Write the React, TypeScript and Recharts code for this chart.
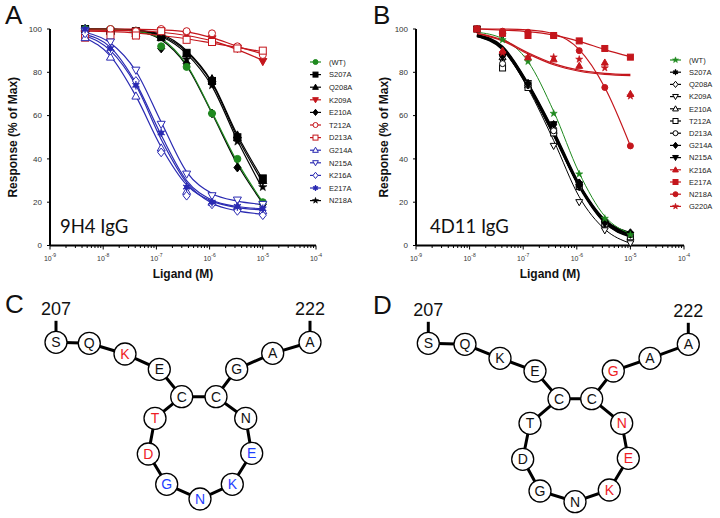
import React from "react";
import { ComposedChart, Line, Scatter, XAxis, YAxis, Legend } from "recharts";

// concentrations (M), 3-fold dilution series
const CONC_A = [4.57e-9, 1.37e-8, 4.12e-8, 1.23e-7, 3.7e-7, 1.11e-6, 3.33e-6, 1e-5];
const CONC_B = [1.37e-8, 4.12e-8, 1.23e-7, 3.7e-7, 1.11e-6, 3.33e-6, 1e-5];
const DECADES = [1e-9, 1e-8, 1e-7, 1e-6, 1e-5, 1e-4];
const MINOR = [2, 3, 4, 5, 6, 7, 8, 9];
const Y_TICKS = [0, 20, 40, 60, 80, 100];

// panel A (9H4 IgG): points and fitted curve read at each concentration
const A_WT = [100, 100, 99, 92, 82.5, 61, 40, 20];
const A_WT_FIT = [100, 99.8, 99, 95.5, 83.5, 61.5, 38.5, 20];
const A_S207A = [100, 99, 99, 97, 89, 76, 50, 31];
const A_S207A_FIT = [100, 99.9, 99.5, 97.5, 90, 75.5, 51, 30.5];
const A_Q208A = [100, 99, 98, 96, 88.5, 77, 51, 30];
const A_Q208A_FIT = [100, 99.9, 99.4, 97, 89.5, 75, 50, 29];
const A_K209A = [98, 98, 99, 99, 97.5, 95.5, 91, 85];
const A_K209A_FIT = [99.5, 99.4, 99.2, 98.5, 97, 94.5, 90.5, 85.5];
const A_E210A = [100, 99, 99, 91, 84, 61, 36, 19];
const A_E210A_FIT = [100, 99.8, 99, 95, 83, 61, 37.5, 19.5];
const A_T212A = [97, 100, 99, 100, 99, 98, 92, 88];
const A_T212A_FIT = [100, 100, 99.9, 99.6, 98.7, 96, 92, 88.5];
const A_D213A = [96, 97, 97, 99, 95, 94, 91, 90];
const A_D213A_FIT = [99, 98.8, 98.2, 97, 95.5, 93.5, 91.5, 89.5];
const A_G214A = [96, 87, 69, 45, 25, 20, 18, 16];
const A_G214A_FIT = [96, 87.5, 69, 45.5, 28, 20.5, 17.5, 16.5];
const A_N215A = [99, 94, 81, 56, 33, 23, 21, 19];
const A_N215A_FIT = [98.5, 93.5, 80.5, 57, 34, 24, 20.5, 19];
const A_K216A = [98, 90, 76, 43, 23, 19, 16, 14];
const A_K216A_FIT = [97, 90, 74, 49, 29, 19.5, 16, 14.5];
const A_E217A = [100, 91, 74, 52, 27, 20, 18, 17];
const A_E217A_FIT = [97.5, 91.5, 75, 51, 30, 21, 18, 17];
const A_N218A = [100, 98, 97, 96, 86, 74, 48, 27];
const A_N218A_FIT = [100, 99.8, 99.2, 96.5, 88.5, 73.5, 48.5, 26];

// panel B (4D11 IgG)
const B_WT = [100, 95, 85, 61, 33, 12.5, 5];
const B_WT_FIT = [98.5, 95.5, 85, 62, 33.5, 13.5, 5.5];
const B_S207A = [100, 88, 75, 55, 28, 11, 5];
const B_S207A_FIT = [97, 91.5, 74.5, 52, 28, 11.5, 5];
const B_Q208A = [100, 86, 74, 54, 29, 11, 5];
const B_Q208A_FIT = [97, 91, 74, 51.5, 27.5, 11, 5];
const B_K209A = [100, 97, 75, 46, 20, 7, 1];
const B_K209A_FIT = [96.5, 90.5, 72.5, 48.5, 22.5, 7.5, 1];
const B_E210A = [100, 87, 74, 53, 27, 10, 4];
const B_E210A_FIT = [97, 91, 73.5, 51, 27, 10.5, 4.5];
const B_T212A = [100, 82, 73, 52, 28, 10, 4];
const B_T212A_FIT = [96.5, 90.5, 73.5, 51, 27.5, 10.5, 4];
const B_D213A = [100, 84, 74, 53, 27, 11, 5];
const B_D213A_FIT = [97, 91, 74, 52, 27.5, 11, 5];
const B_G214A = [100, 88, 75, 56, 29, 11, 6];
const B_G214A_FIT = [97.5, 92, 75, 53, 28.5, 12, 6];
const B_N215A = [100, 87, 74, 56, 27, 10, 5];
const B_N215A_FIT = [97, 91.5, 74.5, 52.5, 28, 11.5, 5.5];
const B_K216A = [100, 90, 87, 86, 83, 84.5, 70];
const B_K216A_FIT = [98, 95, 89, 84, 81, 79.5, 79];
const B_E217A = [100, 98, 97, 97, 94.5, 91, 87];
const B_E217A_FIT = [100, 99.5, 98.8, 97.2, 94.3, 90.5, 87.2];
const B_N218A = [100, 99, 98.5, 97, 90, 73, 46];
const B_N218A_FIT = [100, 100, 99.6, 97.8, 90.5, 73, 46];
const B_G220A = [100, 89, 87, 87, 86, 82, 69];
const B_G220A_FIT = [98, 94.5, 88.5, 83.5, 80.5, 79, 78.5];

// panels C / D: residue diagram
const RESIDUES = ["S", "Q", "K", "E", "C", "C", "G", "A", "A", "T", "D", "G", "N", "K", "E", "N"];
const C_X = [56, 89.3, 125, 159.3, 181.7, 216, 236.7, 272.7, 310, 155, 148.3, 166.7, 200, 232.3, 251.7, 245.7];
const C_Y = [342.3, 343.3, 354, 369.3, 396.7, 396.7, 369.3, 353.3, 342.3, 418.3, 454, 484.3, 499, 484.3, 453.3, 418.3];
const C_HUE = ["k", "k", "r", "k", "k", "k", "k", "k", "k", "r", "r", "b", "b", "b", "b", "k"];
const D_X = [428.3, 465, 500, 535, 559, 591.7, 613.3, 650, 688.3, 530, 522.7, 540, 575, 609.3, 628.3, 621.7];
const D_Y = [343.3, 344.3, 358.3, 371, 398.7, 398.7, 371, 358.3, 344.3, 423.3, 459.3, 491, 501.7, 490, 458.3, 423.3];
const D_HUE = ["k", "k", "k", "k", "k", "k", "r", "k", "k", "k", "k", "k", "k", "r", "r", "r"];
const CHAIN = [0, 1, 2, 3, 4, 5, 6, 7, 8];
const RING = [4, 9, 10, 11, 12, 13, 14, 15, 5];
const END_NODES = [0, 8];
const END_LABELS = ["207", "222"];

const GREEN = "#1f8a1f";
const RED = "#c4161c";
const BLUE = "#2a2ab2";
const BLACK = "#000";
const HUE: Record<string, string> = { k: "#111", r: "#ee1c24", b: "#1f3fff" };
const FONT = "'Liberation Sans', Arial, sans-serif";

type Kind = "circle" | "square" | "triUp" | "triDown" | "diamond" | "star" | "asterisk";
type Series = { name: string; pts: number[]; fit: number[]; color: string; kind: Kind; open?: boolean; lw?: number };

const SERIES_A: Series[] = [
  { name: "(WT)", pts: A_WT, fit: A_WT_FIT, color: GREEN, kind: "circle" },
  { name: "S207A", pts: A_S207A, fit: A_S207A_FIT, color: BLACK, kind: "square" },
  { name: "Q208A", pts: A_Q208A, fit: A_Q208A_FIT, color: BLACK, kind: "triUp" },
  { name: "K209A", pts: A_K209A, fit: A_K209A_FIT, color: RED, kind: "triDown" },
  { name: "E210A", pts: A_E210A, fit: A_E210A_FIT, color: BLACK, kind: "diamond" },
  { name: "T212A", pts: A_T212A, fit: A_T212A_FIT, color: RED, kind: "circle", open: true },
  { name: "D213A", pts: A_D213A, fit: A_D213A_FIT, color: RED, kind: "square", open: true },
  { name: "G214A", pts: A_G214A, fit: A_G214A_FIT, color: BLUE, kind: "triUp", open: true },
  { name: "N215A", pts: A_N215A, fit: A_N215A_FIT, color: BLUE, kind: "triDown", open: true },
  { name: "K216A", pts: A_K216A, fit: A_K216A_FIT, color: BLUE, kind: "diamond", open: true },
  { name: "E217A", pts: A_E217A, fit: A_E217A_FIT, color: BLUE, kind: "asterisk" },
  { name: "N218A", pts: A_N218A, fit: A_N218A_FIT, color: BLACK, kind: "star" },
];

const SERIES_B: Series[] = [
  { name: "(WT)", pts: B_WT, fit: B_WT_FIT, color: GREEN, kind: "star", lw: 1 },
  { name: "S207A", pts: B_S207A, fit: B_S207A_FIT, color: BLACK, kind: "asterisk", lw: 1.6 },
  { name: "Q208A", pts: B_Q208A, fit: B_Q208A_FIT, color: BLACK, kind: "diamond", open: true, lw: 1.6 },
  { name: "K209A", pts: B_K209A, fit: B_K209A_FIT, color: BLACK, kind: "triDown", open: true, lw: 1 },
  { name: "E210A", pts: B_E210A, fit: B_E210A_FIT, color: BLACK, kind: "triUp", open: true, lw: 1.6 },
  { name: "T212A", pts: B_T212A, fit: B_T212A_FIT, color: BLACK, kind: "square", open: true, lw: 1.6 },
  { name: "D213A", pts: B_D213A, fit: B_D213A_FIT, color: BLACK, kind: "circle", open: true, lw: 1.6 },
  { name: "G214A", pts: B_G214A, fit: B_G214A_FIT, color: BLACK, kind: "diamond", lw: 1.6 },
  { name: "N215A", pts: B_N215A, fit: B_N215A_FIT, color: BLACK, kind: "triDown", lw: 1.6 },
  { name: "K216A", pts: B_K216A, fit: B_K216A_FIT, color: RED, kind: "triUp" },
  { name: "E217A", pts: B_E217A, fit: B_E217A_FIT, color: RED, kind: "square" },
  { name: "N218A", pts: B_N218A, fit: B_N218A_FIT, color: RED, kind: "circle" },
  { name: "G220A", pts: B_G220A, fit: B_G220A_FIT, color: RED, kind: "star" },
];

const X_TICKS = [...DECADES, ...DECADES.slice(0, -1).flatMap((d) => MINOR.map((m) => d * m))];

function Marker({ x, y, kind, color, open, s }: { x: number; y: number; kind: Kind; color: string; open?: boolean; s: number }) {
  const fill = open ? "#fff" : color;
  const h = s / 2;
  const common = { fill, stroke: color, strokeWidth: 1 };
  switch (kind) {
    case "circle":
      return <circle cx={x} cy={y} r={h} {...common} />;
    case "square":
      return <rect x={x - h} y={y - h} width={s} height={s} {...common} />;
    case "triUp":
      return <polygon points={`${x},${y - h * 1.2} ${x - h * 1.15},${y + h * 0.85} ${x + h * 1.15},${y + h * 0.85}`} {...common} />;
    case "triDown":
      return <polygon points={`${x},${y + h * 1.2} ${x - h * 1.15},${y - h * 0.85} ${x + h * 1.15},${y - h * 0.85}`} {...common} />;
    case "diamond":
      return <polygon points={`${x},${y - h * 1.25} ${x + h},${y} ${x},${y + h * 1.25} ${x - h},${y}`} {...common} />;
    case "star": {
      const p: string[] = [];
      for (let i = 0; i < 10; i++) {
        const r = i % 2 === 0 ? h * 1.25 : h * 0.5;
        const a = -Math.PI / 2 + (i * Math.PI) / 5;
        p.push(`${x + r * Math.cos(a)},${y + r * Math.sin(a)}`);
      }
      return <polygon points={p.join(" ")} fill={color} stroke={color} strokeWidth={0.6} />;
    }
    case "asterisk":
      return (
        <g stroke={color} strokeWidth={1.3}>
          <line x1={x} y1={y - h * 1.2} x2={x} y2={y + h * 1.2} />
          <line x1={x - h} y1={y - h * 0.6} x2={x + h} y2={y + h * 0.6} />
          <line x1={x - h} y1={y + h * 0.6} x2={x + h} y2={y - h * 0.6} />
          <circle cx={x} cy={y} r={h * 0.55} fill={color} />
        </g>
      );
  }
  return null;
}

function LogTick(props: any) {
  const { x, y, payload } = props;
  const lg = Math.log10(payload.value);
  const e = Math.round(lg);
  const major = Math.abs(lg - e) < 1e-6;
  return (
    <g>
      <line x1={x} x2={x} y1={y} y2={y + (major ? 4 : 2.5)} stroke="#000" strokeWidth={1} />
      {major && (
        <text x={x} y={y + 15} textAnchor="middle" fontSize={7} fill="#333" fontFamily={FONT}>
          <tspan>10</tspan>
          <tspan dy={-3.5} fontSize={5}>{String(e)}</tspan>
        </text>
      )}
    </g>
  );
}

const yLabel = (dx: number) => (props: any) => {
  const vb = props.viewBox || {};
  const cx = vb.x + vb.width + dx;
  const cy = vb.y + vb.height / 2;
  return (
    <text x={cx} y={cy} transform={`rotate(-90 ${cx} ${cy})`} textAnchor="middle" dominantBaseline="central"
      fontSize={12} fontWeight="bold" fontFamily={FONT} fill="#111">
      Response (% of Max)
    </text>
  );
};

const xLabel = (props: any) => {
  const vb = props.viewBox || {};
  return (
    <text x={vb.x + vb.width / 2} y={vb.y + 32.5} textAnchor="middle" fontSize={12} fontWeight="bold" fontFamily={FONT} fill="#111">
      Ligand (M)
    </text>
  );
};

function LegendBox({ items, rowH }: { items: Series[]; rowH: number }) {
  return (
    <svg width={60} height={items.length * rowH + 6} style={{ display: "block", overflow: "visible" }}>
      {items.map((it, i) => {
        const cy = 6 + i * rowH;
        return (
          <g key={it.name}>
            <line x1={1} x2={12} y1={cy} y2={cy} stroke={it.color} strokeWidth={1.2} />
            <Marker x={6.5} y={cy} kind={it.kind} color={it.color} open={it.open} s={5} />
            <text x={20} y={cy + 2.7} fontSize={7.5} fill="#222" fontFamily={FONT}>{it.name}</text>
          </g>
        );
      })}
    </svg>
  );
}

function DoseChart({ series, conc, drawOrder, marginLeft, marginRight, labelDx, rowH, legendTop, markerSize }: {
  series: Series[]; conc: number[]; drawOrder: number[]; marginLeft: number; marginRight: number;
  labelDx: number; rowH: number; legendTop: number; markerSize: number;
}) {
  const ordered = drawOrder.map((i) => series[i]);
  return (
    <ComposedChart width={360} height={290} margin={{ top: 29, right: marginRight, bottom: 14.5, left: marginLeft }}>
      <XAxis type="number" dataKey="x" scale="log" domain={[1e-9, 1e-4]} allowDataOverflow ticks={X_TICKS} interval={0}
        tick={<LogTick />} tickSize={0} tickMargin={0} tickLine={false} height={30}
        axisLine={{ stroke: "#000", strokeWidth: 2 }} label={xLabel} />
      <YAxis type="number" dataKey="y" domain={[0, 100]} ticks={Y_TICKS} interval={0} width={40} tickSize={3} tickMargin={5}
        tick={{ fontSize: 8, fill: "#333", fontFamily: FONT }} tickLine={{ stroke: "#000" }}
        axisLine={{ stroke: "#000", strokeWidth: 2 }} label={yLabel(labelDx)} />
      {ordered.map((s) => (
        <Line key={"f" + s.name} data={conc.map((x, i) => ({ x, y: s.fit[i] }))} dataKey="y" type="monotone"
          stroke={s.color} strokeWidth={s.lw ?? 1.2} dot={false} isAnimationActive={false} legendType="none" />
      ))}
      {ordered.map((s) => (
        <Scatter key={"p" + s.name} data={conc.map((x, i) => ({ x, y: s.pts[i] }))} dataKey="y" isAnimationActive={false}
          legendType="none"
          shape={(p: any) => <Marker x={p.cx} y={p.cy} kind={s.kind} color={s.color} open={s.open} s={markerSize} />} />
      ))}
      <Legend layout="vertical" align="center" verticalAlign="middle"
        wrapperStyle={{ left: 309, top: legendTop, width: 60, height: series.length * rowH + 6 }}
        content={() => <LegendBox items={series} rowH={rowH} />} />
    </ComposedChart>
  );
}

function Diagram({ xs, ys, hues, x0 }: { xs: number[]; ys: number[]; hues: string[]; x0: number }) {
  const node = (i: number) => ({ x: xs[i], y: ys[i] });
  const nodes = RESIDUES.map((r, i) => ({ x: xs[i], y: ys[i], letter: r, hue: hues[i] }));
  const ends = END_NODES.map((n, k) => ({ x: xs[n], y: ys[n] - 27.5, text: END_LABELS[k] }));
  return (
    <ComposedChart width={360} height={228} margin={{ top: 0, right: 0, bottom: 0, left: 0 }}>
      <XAxis type="number" dataKey="x" domain={[x0, x0 + 360]} hide />
      <YAxis type="number" dataKey="y" domain={[290, 518]} reversed hide />
      <Line data={CHAIN.map(node)} dataKey="y" type="linear" stroke="#000" strokeWidth={3} dot={false} isAnimationActive={false} />
      <Line data={RING.map(node)} dataKey="y" type="linear" stroke="#000" strokeWidth={3} dot={false} isAnimationActive={false} />
      {END_NODES.map((n) => (
        <Line key={"t" + n} data={[{ x: xs[n], y: ys[n] - 10 }, { x: xs[n], y: ys[n] - 21.5 }]} dataKey="y" type="linear"
          stroke="#000" strokeWidth={3} dot={false} isAnimationActive={false} />
      ))}
      <Scatter data={nodes} dataKey="y" isAnimationActive={false}
        shape={(p: any) => (
          <g>
            <circle cx={p.cx} cy={p.cy} r={11} fill="#fff" stroke="#000" strokeWidth={1.3} />
            <text x={p.cx} y={p.cy + 5} textAnchor="middle" fontSize={14} fontFamily={FONT} fill={HUE[p.payload.hue]}>
              {p.payload.letter}
            </text>
          </g>
        )} />
      <Scatter data={ends} dataKey="y" isAnimationActive={false}
        shape={(p: any) => (
          <text x={p.cx} y={p.cy} textAnchor="middle" fontSize={18} fontFamily={FONT} fill="#111">{p.payload.text}</text>
        )} />
    </ComposedChart>
  );
}

const PANEL_LETTERS = [
  { t: "A", x: 5, y: 24 },
  { t: "B", x: 373, y: 24 },
  { t: "C", x: 5, y: 313 },
  { t: "D", x: 373, y: 314 },
];
const ANTIBODY_LABELS = [
  { t: "9H4 IgG", x: 60, y: 233 },
  { t: "4D11 IgG", x: 430, y: 233 },
];

export default function App() {
  return (
    <div style={{ position: "absolute", left: 0, top: 0, width: 720, height: 518, background: "#fff", overflow: "hidden", fontFamily: FONT }}>
      <div style={{ position: "absolute", left: 0, top: 0 }}>
        <DoseChart series={SERIES_A} conc={CONC_A} drawOrder={[1, 2, 11, 4, 0, 3, 5, 6, 7, 8, 9, 10]}
          marginLeft={10} marginRight={44} labelDx={-37} rowH={12.6} legendTop={56} markerSize={7} />
      </div>
      <div style={{ position: "absolute", left: 360, top: 0 }}>
        <DoseChart series={SERIES_B} conc={CONC_B} drawOrder={[1, 2, 3, 4, 5, 6, 7, 8, 0, 9, 12, 10, 11]}
          marginLeft={16} marginRight={36} labelDx={-32} rowH={12.2} legendTop={54.3} markerSize={6} />
      </div>
      <div style={{ position: "absolute", left: 0, top: 290 }}>
        <Diagram xs={C_X} ys={C_Y} hues={C_HUE} x0={0} />
      </div>
      <div style={{ position: "absolute", left: 360, top: 290 }}>
        <Diagram xs={D_X} ys={D_Y} hues={D_HUE} x0={360} />
      </div>
      <svg width={720} height={518} style={{ position: "absolute", left: 0, top: 0, pointerEvents: "none" }}>
        {PANEL_LETTERS.map((p) => (
          <text key={p.t} x={p.x} y={p.y} fontSize={26} fontFamily={FONT} fill="#111">{p.t}</text>
        ))}
        {ANTIBODY_LABELS.map((p) => (
          <text key={p.t} x={p.x} y={p.y} fontSize={18.5} fontFamily="Lato, 'Open Sans', sans-serif" fill="#111">{p.t}</text>
        ))}
      </svg>
    </div>
  );
}
